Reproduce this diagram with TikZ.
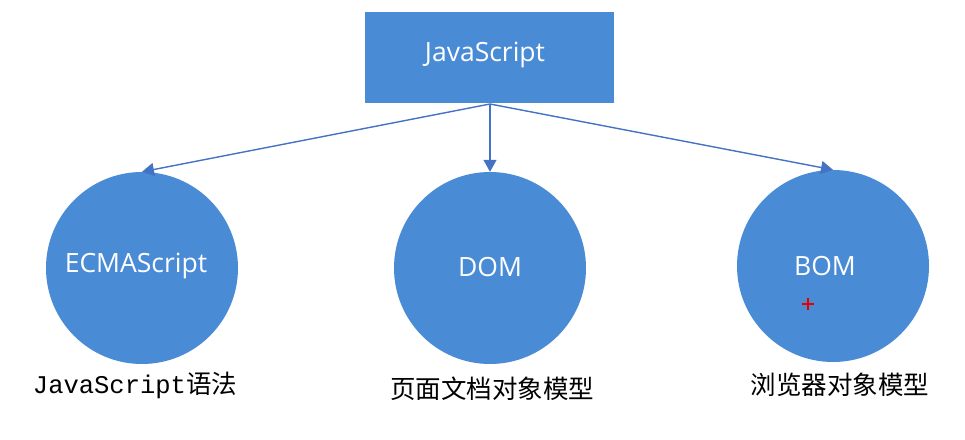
\documentclass[tikz,border=0pt]{standalone}
\usepackage{fontspec}
\setmainfont{Open Sans}
\newfontfamily\cjkfont{Noto Sans CJK SC}
\newfontfamily\monofont{Liberation Mono}
\usetikzlibrary{arrows.meta}
\definecolor{jsblue}{HTML}{4A8BD6}
\definecolor{arrowblue}{HTML}{4472C4}
\begin{document}
\begin{tikzpicture}[x=1pt,y=-1pt,
  topbox/.style={rectangle, fill=jsblue, minimum width=249pt, minimum height=91pt, inner sep=0pt},
  bubble/.style={circle, fill=jsblue, minimum size=192pt, inner sep=0pt},
  label text/.style={text=white, inner sep=0pt, font=\fontsize{26.5}{30}\selectfont},
  caption/.style={inner sep=0pt, text=black, font=\fontsize{25.5}{30}\selectfont, anchor=center},
  link/.style={draw=arrowblue, line width=1.4pt, -{Triangle[length=12pt,width=13pt]}},
  cross/.style={draw=red!90!black, line width=2.6pt}
]
\useasboundingbox (0,0) rectangle (965,439);
\node[topbox] (js) at (489.5,57.5) {};
\node[label text] (jstext) at (485,55) {JavaScript};
\node[bubble] (ecma) at (142,268) {};
\node[label text] (ecmatext) at (136,266) {ECMAScript};
\node[bubble] (dom) at (490,268) {};
\node[label text] (domtext) at (490,267) {DOM};
\node[bubble] (bom) at (833,266) {};
\node[label text] (bomtext) at (825,266) {BOM};
\coordinate (hub) at (490,104);
\draw[link] (hub) -- (ecma.north);
\draw[link] (hub) -- (dom.north);
\draw[link] (hub) -- (bom.north);
\coordinate (cursor) at (808,304);
\draw[cross] ([xshift=-6pt]cursor) -- ([xshift=6pt]cursor);
\draw[cross] ([yshift=-6pt]cursor) -- ([yshift=6pt]cursor);
\node[caption] (cap1) at (135,385) {{\monofont JavaScript}{\cjkfont 语法}};
\node[caption] (cap2) at (492,389) {\cjkfont 页面文档对象模型};
\node[caption] (cap3) at (840,385) {\cjkfont 浏览器对象模型};
\end{tikzpicture}
\end{document}
